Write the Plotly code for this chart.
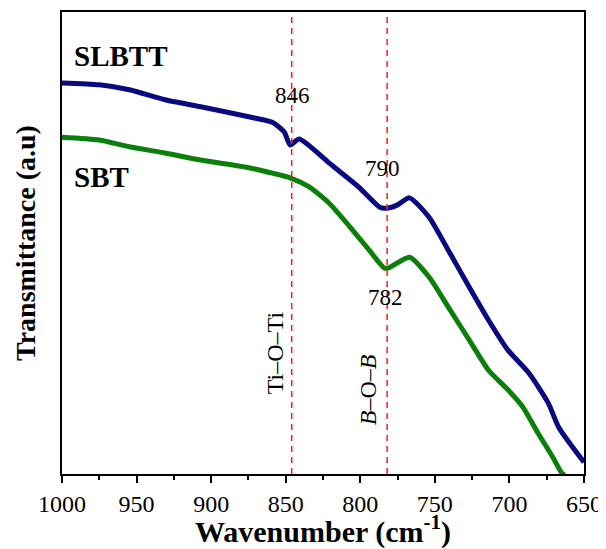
import plotly.graph_objects as go

# SLBTT spectrum (wavenumber, transmittance a.u.)
slbtt_w = [1000, 975, 954, 931, 907, 874, 859, 851, 847, 841, 821, 801, 787, 782, 775, 767, 754, 741, 727, 714, 701, 687, 674, 667, 650]
slbtt_t = [84.8, 84.4, 83.3, 81.2, 79.7, 77.5, 76.4, 74.3, 71.5, 72.8, 67.7, 62.5, 58.2, 58.0, 58.7, 60.2, 56.1, 49.0, 41.1, 34.0, 27.6, 22.7, 16.3, 11.1, 3.6]

# SBT spectrum
sbt_w = [1000, 975, 954, 931, 907, 874, 859, 847, 834, 821, 807, 794, 784, 781, 767, 754, 741, 727, 714, 701, 691, 681, 671, 665, 663]
sbt_t = [73.2, 72.6, 71.1, 69.8, 68.3, 66.6, 65.5, 64.5, 62.5, 59.1, 54.0, 49.0, 45.2, 45.2, 47.5, 43.3, 36.8, 29.8, 23.3, 19.1, 15.4, 9.9, 4.7, 1.3, 0.8]

marker_lines = [846, 782]
peak_labels = ["846", "790", "782"]
bond_labels = ["Ti\u2013O\u2013Ti", "<i>B</i>\u2013O\u2013<i>B</i>"]
x_ticks = [1000, 950, 900, 850, 800, 750, 700, 650]

FONT = "Liberation Serif"

fig = go.Figure()
fig.add_trace(go.Scatter(x=slbtt_w, y=slbtt_t, mode="lines", name="SLBTT",
                         line=dict(color="#0a0a80", width=5, shape="spline", smoothing=0.6)))
fig.add_trace(go.Scatter(x=sbt_w, y=sbt_t, mode="lines", name="SBT",
                         line=dict(color="#0a800a", width=5, shape="spline", smoothing=0.6)))

for xv in marker_lines:
    fig.add_shape(type="line", xref="x", yref="paper", x0=xv, x1=xv, y0=0, y1=1,
                  line=dict(color="#ff1a1a", width=1.5, dash="6px,5px"))

anns = [
    dict(x=0.019, y=0.905, xref="paper", text="<b>SLBTT</b>", font=dict(size=29), xanchor="left"),
    dict(x=0.019, y=0.643, xref="paper", text="<b>SBT</b>", font=dict(size=29), xanchor="left"),
    dict(x=845.6, y=0.820, text=peak_labels[0], font=dict(size=23)),
    dict(x=785, y=0.662, text=peak_labels[1], font=dict(size=23)),
    dict(x=783, y=0.383, text=peak_labels[2], font=dict(size=23)),
    dict(x=857, y=0.262, text=bond_labels[0], textangle=-90, font=dict(size=24)),
    dict(x=794.6, y=0.182, text=bond_labels[1], textangle=-90, font=dict(size=24)),
]
for a in anns:
    a.setdefault("showarrow", False)
    a.setdefault("xref", "x")
    a["yref"] = "paper"
    a["yanchor"] = "middle"
    a.setdefault("xanchor", "center")
    a["font"]["family"] = FONT
    a["font"]["color"] = "black"
    fig.add_annotation(**a)

fig.update_layout(
    width=598, height=541,
    margin=dict(l=54, r=22, t=4, b=75),
    paper_bgcolor="white", plot_bgcolor="white",
    showlegend=False,
    font=dict(family=FONT, color="black", size=24),
    xaxis=dict(range=[1000, 650], tickvals=x_ticks, automargin=False,
               ticks="outside", ticklen=7, tickwidth=2, tickcolor="black",
               minor=dict(dtick=25, tick0=1000, ticks="outside", ticklen=4, tickwidth=2, tickcolor="black"),
               showline=True, linecolor="black", linewidth=2, mirror=True, showgrid=False, zeroline=False,
               tickfont=dict(size=24, family=FONT),
               title=dict(text="<b>Wavenumber (cm<sup>-1</sup>)</b>", font=dict(size=30, family=FONT), standoff=10)),
    yaxis=dict(range=[1.07, 100], showticklabels=False, ticks="", automargin=False,
               showline=True, linecolor="black", linewidth=2, mirror=True, showgrid=False, zeroline=False,
               title=dict(text="<b>Transmittance (a.u)</b>", font=dict(size=28, family=FONT), standoff=16)),
)

fig.write_html("out.html")
